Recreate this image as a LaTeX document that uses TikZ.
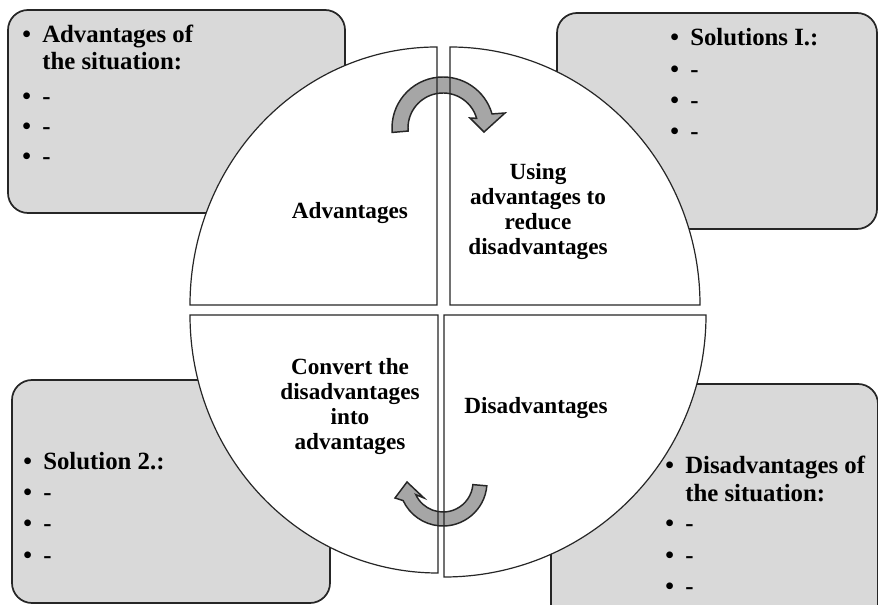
\documentclass[tikz,border=0pt]{standalone}
\usepackage{fontspec}
\setmainfont{Liberation Serif}
\usetikzlibrary{calc}
\definecolor{panelgray}{HTML}{D9D9D9}
\definecolor{arrowgray}{HTML}{A6A6A6}
\definecolor{inkline}{HTML}{262626}
% bullet followed by a fixed indent
\newcommand\bul{\makebox[15pt][l]{\textbullet}}

\begin{document}
\begin{tikzpicture}[x=0.75pt,y=-0.75pt,
  panel/.style={draw=inkline, line width=1.3pt, fill=panelgray, rounded corners=15pt},
  quadfill/.style={fill=white},
  quadline/.style={draw=inkline, line width=0.9pt, line join=miter},
  turn/.style={draw=inkline, line width=1.1pt, fill=arrowgray, line join=miter},
  itemtxt/.style={anchor=base west, inner sep=0pt, font=\fontsize{18.6}{20}\selectfont\bfseries},
  quadtxt/.style={align=center, inner sep=0pt, font=\fontsize{17.4}{18.75}\selectfont\bfseries}]

\useasboundingbox (0,0) rectangle (878,605);
\clip (0,0) rectangle (878,605);

% corner panels
\path[panel] (8,10) rectangle (345,213);
\path[panel] (557,13) rectangle (877,229);
\path[panel] (12,380) rectangle (330,603);
\path[panel] (551,384) rectangle (878,650);

% quadrant fills
\path[quadfill] (437,305) -- (190,305) arc[start angle=180, end angle=270, x radius=247, y radius=258] -- cycle;
\path[quadfill] (450,305) -- (450,47) arc[start angle=270, end angle=360, x radius=250, y radius=258] -- cycle;
\path[quadfill] (444,315) -- (706,315) arc[start angle=0, end angle=90, x radius=262, y radius=262] -- cycle;
\path[quadfill] (438,315) -- (438,573) arc[start angle=90, end angle=180, x radius=248, y radius=258] -- cycle;

% curved arrows
\coordinate (ca) at (443,128);
\coordinate (cb) at (443,482);
\draw[turn] ($(ca)+(175:51)$) arc[start angle=175, end angle=344, radius=51]
  -- (505,113) -- (484,132) -- (470,118)
  -- ($(ca)+(344:35)$) arc[start angle=344, end angle=175, radius=35] -- cycle;
\draw[turn] ($(cb)+(5:44)$) arc[start angle=5, end angle=155, radius=44]
  -- (395,498) -- (407,482) -- (424,498)
  -- ($(cb)+(155:30)$) arc[start angle=155, end angle=5, radius=30] -- cycle;

% quadrant outlines
\path[quadline] (437,305) -- (190,305) arc[start angle=180, end angle=270, x radius=247, y radius=258] -- cycle;
\path[quadline] (450,305) -- (450,47) arc[start angle=270, end angle=360, x radius=250, y radius=258] -- cycle;
\path[quadline] (444,315) -- (706,315) arc[start angle=0, end angle=90, x radius=262, y radius=262] -- cycle;
\path[quadline] (438,315) -- (438,573) arc[start angle=90, end angle=180, x radius=248, y radius=258] -- cycle;

% quadrant labels
\node[quadtxt] (adv) at (350,213) {Advantages};
\node[quadtxt] (use) at (538,212) {Using\\advantages to\\reduce\\disadvantages};
\node[quadtxt] (conv) at (350,407) {Convert the\\disadvantages\\into\\advantages};
\node[quadtxt] (dis) at (536,408) {Disadvantages};

% top-left panel
\node[itemtxt] (tl0) at (22,43) {\bul Advantages of};
\node[itemtxt] (tl1) at (42,70) {the situation:};
\node[itemtxt] (tl2) at (22,105) {\bul -};
\node[itemtxt] (tl3) at (22,135) {\bul -};
\node[itemtxt] (tl4) at (22,165) {\bul -};

% top-right panel
\node[itemtxt] (tr0) at (670,46) {\bul Solutions I.:};
\node[itemtxt] (tr1) at (670,78) {\bul -};
\node[itemtxt] (tr2) at (670,109) {\bul -};
\node[itemtxt] (tr3) at (670,140) {\bul -};

% bottom-left panel
\node[itemtxt] (bl0) at (23,470) {\bul Solution 2.:};
\node[itemtxt] (bl1) at (23,501) {\bul -};
\node[itemtxt] (bl2) at (23,532) {\bul -};
\node[itemtxt] (bl3) at (23,563) {\bul -};

% bottom-right panel
\node[itemtxt] (br0) at (665,474) {\bul Disadvantages of};
\node[itemtxt] (br1) at (685,502) {the situation:};
\node[itemtxt] (br2) at (665,532) {\bul -};
\node[itemtxt] (br3) at (665,563) {\bul -};
\node[itemtxt] (br4) at (665,594) {\bul -};
\end{tikzpicture}
\end{document}
